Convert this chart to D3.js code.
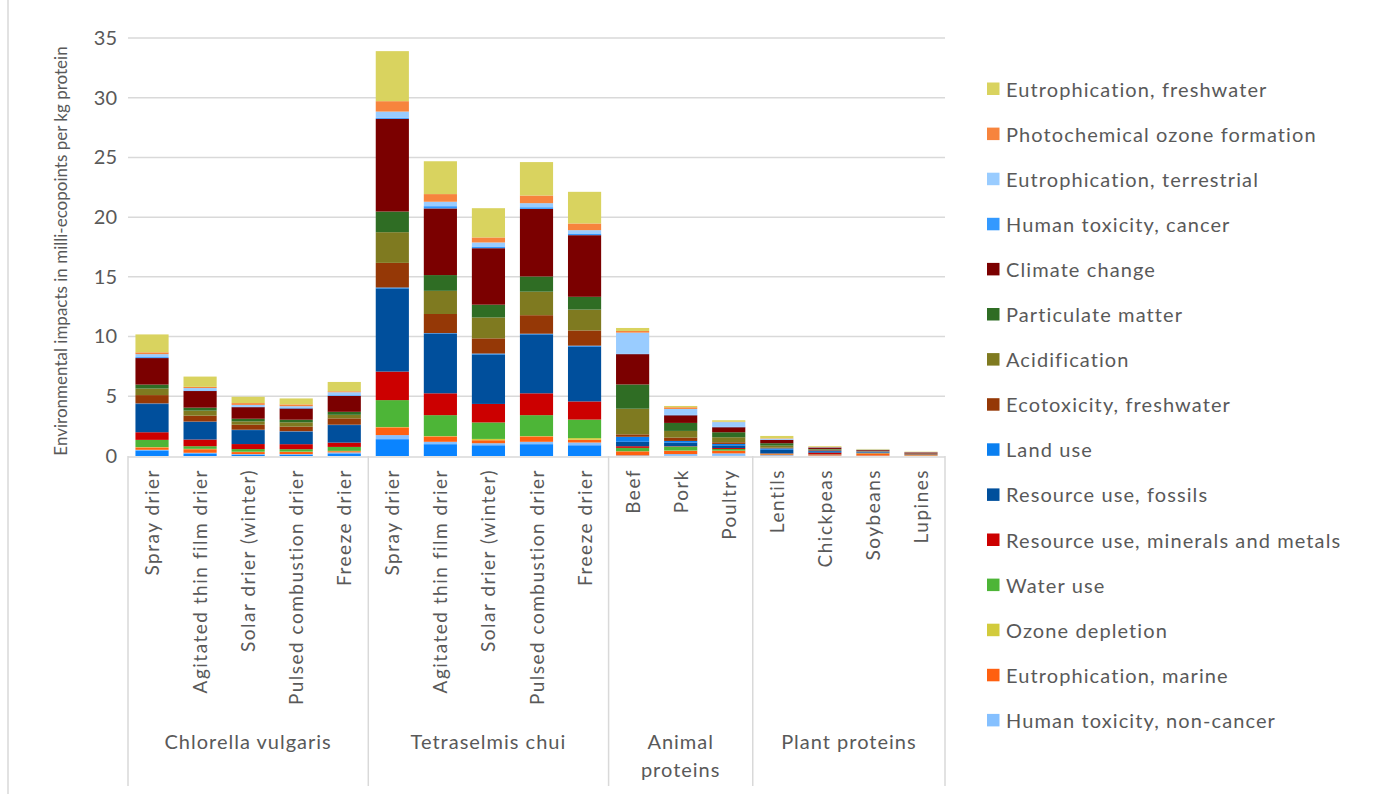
<!DOCTYPE html>
<html>
<head>
<meta charset="utf-8">
<script src="https://cdn.jsdelivr.net/npm/d3@7"></script>
<style>
  body { margin: 0; background: #fff; }
  svg { font-family: Lato, "Open Sans", sans-serif; }
</style>
</head>
<body>
<div id="chart"></div>
<script>
// categories (17 bars) and their groups
const categories = ["Spray drier", "Agitated thin film drier", "Solar drier (winter)", "Pulsed combustion drier", "Freeze drier",
  "Spray drier", "Agitated thin film drier", "Solar drier (winter)", "Pulsed combustion drier", "Freeze drier",
  "Beef", "Pork", "Poultry", "Lentils", "Chickpeas", "Soybeans", "Lupines"];
const groupNames = [["Chlorella vulgaris"], ["Tetraselmis chui"], ["Animal", "proteins"], ["Plant proteins"]];
const groupSizes = [5, 5, 3, 4];
const yTicks = [0, 5, 10, 15, 20, 25, 30, 35];

// series values, bottom of the stack first
const ionising     = [0.47, 0.22, 0.12, 0.12, 0.22, 1.41, 0.99, 0.90, 0.99, 0.90, 0.02, 0.02, 0.02, 0.02, 0.01, 0.01, 0.01];
const nonCancer    = [0.05, 0.05, 0.04, 0.04, 0.08, 0.34, 0.20, 0.17, 0.20, 0.23, 0.03, 0.14, 0.20, 0.05, 0.03, 0.02, 0.01];
const eutroMarine  = [0.20, 0.30, 0.17, 0.18, 0.10, 0.65, 0.45, 0.25, 0.45, 0.23, 0.34, 0.28, 0.22, 0.08, 0.05, 0.18, 0.05];
const ozone        = [0.03, 0.03, 0.03, 0.03, 0.03, 0.03, 0.03, 0.11, 0.03, 0.14, 0.01, 0.02, 0.01, 0.01, 0.01, 0.01, 0.01];
const waterUse     = [0.60, 0.22, 0.22, 0.20, 0.33, 2.25, 1.75, 1.38, 1.75, 1.55, 0.28, 0.33, 0.14, 0.03, 0.03, 0.02, 0.01];
const minerals     = [0.64, 0.56, 0.42, 0.42, 0.36, 2.39, 1.83, 1.55, 1.83, 1.52, 0.14, 0.03, 0.08, 0.03, 0.15, 0.03, 0.01];
const fossils      = [2.36, 1.47, 1.17, 1.05, 1.47, 6.96, 4.99, 4.14, 4.93, 4.59, 0.37, 0.30, 0.22, 0.30, 0.12, 0.05, 0.02];
const landUse      = [0.05, 0.03, 0.03, 0.03, 0.03, 0.08, 0.05, 0.08, 0.06, 0.08, 0.42, 0.14, 0.12, 0.12, 0.05, 0.05, 0.01];
const ecotox       = [0.70, 0.50, 0.42, 0.39, 0.53, 2.06, 1.60, 1.27, 1.55, 1.27, 0.20, 0.28, 0.14, 0.06, 0.06, 0.03, 0.07];
const acidif       = [0.55, 0.42, 0.28, 0.36, 0.30, 2.57, 1.94, 1.75, 1.97, 1.75, 2.15, 0.56, 0.42, 0.17, 0.04, 0.02, 0.01];
const particulate  = [0.33, 0.25, 0.22, 0.22, 0.25, 1.73, 1.32, 1.07, 1.27, 1.07, 2.03, 0.67, 0.42, 0.20, 0.04, 0.02, 0.01];
const climate      = [2.22, 1.39, 0.97, 0.94, 1.33, 7.76, 5.58, 4.73, 5.66, 5.16, 2.54, 0.64, 0.42, 0.28, 0.12, 0.06, 0.08];
const cancer       = [0.08, 0.05, 0.04, 0.04, 0.06, 0.08, 0.19, 0.14, 0.14, 0.14, 0.02, 0.03, 0.03, 0.02, 0.01, 0.01, 0.01];
const eutroTerr    = [0.25, 0.20, 0.15, 0.15, 0.25, 0.53, 0.37, 0.34, 0.34, 0.28, 1.78, 0.50, 0.40, 0.08, 0.02, 0.03, 0.01];
const photochem    = [0.15, 0.10, 0.15, 0.15, 0.08, 0.87, 0.64, 0.42, 0.64, 0.56, 0.14, 0.14, 0.03, 0.03, 0.02, 0.01, 0.01];
const eutroFresh   = [1.50, 0.86, 0.53, 0.50, 0.78, 4.19, 2.75, 2.45, 2.80, 2.65, 0.25, 0.11, 0.12, 0.20, 0.06, 0.04, 0.03];

const seriesNames = ["Ionising radiation", "Human toxicity, non-cancer", "Eutrophication, marine", "Ozone depletion", "Water use",
  "Resource use, minerals and metals", "Resource use, fossils", "Land use", "Ecotoxicity, freshwater", "Acidification",
  "Particulate matter", "Climate change", "Human toxicity, cancer", "Eutrophication, terrestrial",
  "Photochemical ozone formation", "Eutrophication, freshwater"];
const seriesValues = [ionising, nonCancer, eutroMarine, ozone, waterUse, minerals, fossils, landUse, ecotox, acidif,
  particulate, climate, cancer, eutroTerr, photochem, eutroFresh];
const seriesColors = ["#0a84ff", "#85c0ff", "#ff6010", "#d2cb3c", "#4db537", "#cc0000", "#004f9c", "#0a7ff0", "#953806",
  "#7f7a20", "#2f6d24", "#7b0000", "#3399ff", "#99ccff", "#f7843d", "#d9d35f"];
// the first series is not shown in the legend of the original
const legendSeries = d3.range(1, seriesNames.length).reverse();

const width = 1374, height = 794;
const plotLeft = 128, plotRight = 945, plotTop = 38, plotBottom = 456;
const grey = "#595959", lineGrey = "#d9d9d9";

const svg = d3.select("#chart").append("svg")
  .attr("width", width)
  .attr("height", height);

// chart border on the left
svg.append("line")
  .attr("x1", 8).attr("x2", 8).attr("y1", 0).attr("y2", height)
  .style("stroke", lineGrey).style("stroke-width", 1.5);

const x = d3.scaleBand()
  .domain(d3.range(categories.length))
  .range([plotLeft, plotRight])
  .paddingInner(0.31)
  .paddingOuter(0.155);

const y = d3.scaleLinear().domain([0, 35]).range([plotBottom, plotTop]);

// gridlines
svg.append("g")
  .selectAll("line")
  .data(yTicks.slice(1))
  .enter().append("line")
    .attr("x1", plotLeft).attr("x2", plotRight)
    .attr("y1", d => y(d)).attr("y2", d => y(d))
    .style("stroke", lineGrey).style("stroke-width", 1.5);

// y axis labels
const yAxis = svg.append("g")
  .attr("transform", `translate(${plotLeft - 11},0)`)
  .call(d3.axisLeft(y).tickValues(yTicks).tickSize(0).tickPadding(0));
yAxis.select(".domain").remove();
yAxis.selectAll("text")
  .style("font-family", "Lato, sans-serif")
  .style("font-size", "20px")
  .style("fill", grey);

svg.append("text")
  .attr("transform", `translate(67, 251) rotate(-90)`)
  .attr("text-anchor", "middle")
  .style("font-size", "17px")
  .style("fill", grey)
  .text("Environmental impacts in milli-ecopoints per kg protein");

// stacked bars
const rows = categories.map((c, i) => {
  const r = {};
  seriesValues.forEach((vals, s) => { r["s" + s] = vals[i]; });
  return r;
});
const stack = d3.stack().keys(seriesValues.map((v, s) => "s" + s));
const layers = stack(rows);

svg.append("g")
  .selectAll("g")
  .data(layers)
  .enter().append("g")
    .style("fill", (d, s) => seriesColors[s])
  .selectAll("rect")
  .data(d => d)
  .enter().append("rect")
    .attr("x", (d, i) => x(i))
    .attr("width", x.bandwidth())
    .attr("y", d => y(d[1]))
    .attr("height", d => Math.max(0, y(d[0]) - y(d[1])));

// category axis
svg.append("line")
  .attr("x1", plotLeft).attr("x2", plotRight).attr("y1", plotBottom + 1).attr("y2", plotBottom + 1)
  .style("stroke", lineGrey).style("stroke-width", 1.5);

svg.append("g")
  .selectAll("text")
  .data(categories)
  .enter().append("text")
    .attr("transform", (d, i) => `translate(${x(i) + x.bandwidth() / 2 + 7}, ${plotBottom + 13}) rotate(-90)`)
    .attr("text-anchor", "end")
    .style("font-size", "19px")
    .style("letter-spacing", "1.5px")
    .style("fill", grey)
    .text(d => d);

let start = 0;
const bounds = [0];
groupSizes.forEach(n => { start += n; bounds.push(start); });

svg.append("g")
  .selectAll("line")
  .data(bounds)
  .enter().append("line")
    .attr("x1", d => plotLeft + d * x.step()).attr("x2", d => plotLeft + d * x.step())
    .attr("y1", plotBottom).attr("y2", 786)
    .style("stroke", lineGrey).style("stroke-width", 1.5);

groupNames.forEach((lines, g) => {
  const cx = plotLeft + (bounds[g] + bounds[g + 1]) / 2 * x.step();
  const t = svg.append("text")
    .attr("text-anchor", "middle")
    .style("font-size", "20px")
    .style("letter-spacing", "1px")
    .style("fill", grey);
  lines.forEach((l, k) => {
    t.append("tspan").attr("x", cx).attr("y", 749 + k * 28).text(l);
  });
});

// legend
const legend = svg.append("g").attr("transform", "translate(987, 89)");
const items = legend.selectAll("g")
  .data(legendSeries)
  .enter().append("g")
    .attr("transform", (d, i) => `translate(0, ${i * 45.1})`);
items.append("rect")
  .attr("x", 0).attr("y", -6.5)
  .attr("width", 12.5).attr("height", 12.5)
  .style("fill", d => seriesColors[d]);
items.append("text")
  .attr("x", 19).attr("y", 7.5)
  .style("font-size", "20px")
  .style("letter-spacing", "1.1px")
  .style("fill", grey)
  .text(d => seriesNames[d]);
</script>
</body>
</html>
